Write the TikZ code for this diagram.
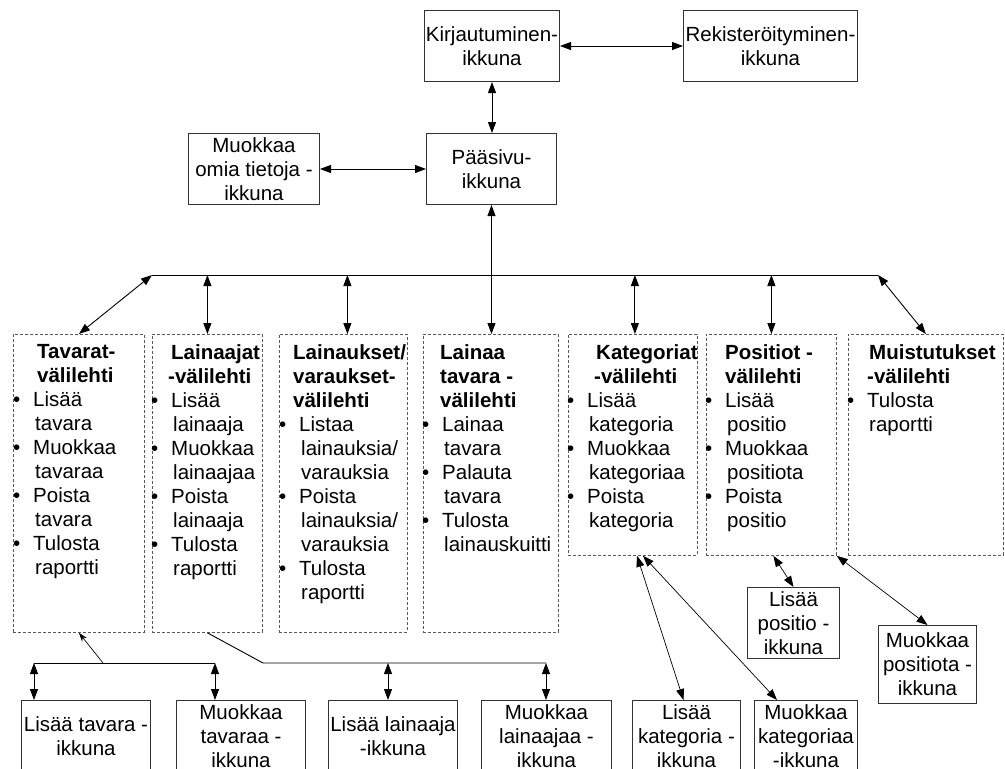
\documentclass[tikz,border=0pt]{standalone}
\usepackage{fontspec}
\setmainfont{Liberation Sans}
\usetikzlibrary{arrows.meta,calc}
% bullet hanging left of the item column
\newcommand{\bu}{\llap{\textbullet\hspace{13pt}}}
\begin{document}
\begin{tikzpicture}[x=1pt,y=-1pt,
  every node/.style={font=\fontsize{20.5}{24}\selectfont},
  win/.style={draw=black!80, line width=1pt, align=center, inner sep=0pt, anchor=north west},
  tab/.style={draw=black!65, line width=0.8pt, dash pattern=on 3pt off 2pt, anchor=north west, inner sep=0pt},
  tabtext/.style={anchor=north west, align=left, inner sep=0pt},
  conn/.style={line width=0.9pt},
  dbl/.style={conn, {Triangle[length=11pt,width=8pt]}-{Triangle[length=11pt,width=8pt]}},
  sgl/.style={line width=0.7pt, -{Stealth[length=9pt,width=6pt]}}
]
\clip (0,0) rectangle (1005,769);
\fill[white] (0,0) rectangle (1005,769);

% ---- window boxes, top part
\node[win, minimum width=135pt, minimum height=71pt] (K) at (424,10) {Kirjautuminen-\\ikkuna};
\node[win, minimum width=174pt, minimum height=71pt] (R) at (683,10) {Rekisteröityminen-\\ikkuna};
\node[win, minimum width=131pt, minimum height=71pt] (MO) at (188,133) {Muokkaa\\omia tietoja -\\ikkuna};
\node[win, minimum width=130pt, minimum height=71pt] (P) at (426,133) {Pääsivu-\\ikkuna};

% ---- tab frames
\node[tab, minimum width=131pt, minimum height=298pt] (T1) at (13,334) {};
\node[tab, minimum width=110pt, minimum height=298pt] (T2) at (152,334) {};
\node[tab, minimum width=128pt, minimum height=298pt] (T3) at (279,334) {};
\node[tab, minimum width=135pt, minimum height=298pt] (T4) at (423,334) {};
\node[tab, minimum width=129pt, minimum height=221pt] (T5) at (568,334) {};
\node[tab, minimum width=130pt, minimum height=221pt] (T6) at (706,334) {};
\node[tab, minimum width=155pt, minimum height=221pt] (T7) at (848,334) {};

% ---- tab contents
\node[tabtext] (X1) at (33,344) {%
\hspace*{4pt}\textbf{Tavarat-}\\
\hspace*{4pt}\textbf{välilehti}\\
\bu Lisää\\ \hspace*{2pt}tavara\\
\bu Muokkaa\\ \hspace*{2pt}tavaraa\\
\bu Poista\\ \hspace*{2pt}tavara\\
\bu Tulosta\\ \hspace*{2pt}raportti};
\node[tabtext] (X2) at (171,344) {%
\textbf{Lainaajat}\\
\hspace*{-3pt}\textbf{-välilehti}\\
\bu Lisää\\ \hspace*{2pt}lainaaja\\
\bu Muokkaa\\ \hspace*{2pt}lainaajaa\\
\bu Poista\\ \hspace*{2pt}lainaaja\\
\bu Tulosta\\ \hspace*{2pt}raportti};
\node[tabtext] (X3) at (299,344) {%
\hspace*{-6pt}\textbf{Lainaukset/}\\
\hspace*{-6pt}\textbf{varaukset-}\\
\hspace*{-6pt}\textbf{välilehti}\\
\bu Listaa\\ \hspace*{2pt}lainauksia/\\ \hspace*{2pt}varauksia\\
\bu Poista\\ \hspace*{2pt}lainauksia/\\ \hspace*{2pt}varauksia\\
\bu Tulosta\\ \hspace*{2pt}raportti};
\node[tabtext] (X4) at (442,344) {%
\hspace*{-2pt}\textbf{Lainaa}\\
\hspace*{-2pt}\textbf{tavara -}\\
\hspace*{-2pt}\textbf{välilehti}\\
\bu Lainaa\\ \hspace*{2pt}tavara\\
\bu Palauta\\ \hspace*{2pt}tavara\\
\bu Tulosta\\ \hspace*{2pt}lainauskuitti};
\node[tabtext] (X5) at (587,344) {%
\hspace*{9pt}\textbf{Kategoriat}\\
\hspace*{7pt}\textbf{-välilehti}\\
\bu Lisää\\ \hspace*{2pt}kategoria\\
\bu Muokkaa\\ \hspace*{2pt}kategoriaa\\
\bu Poista\\ \hspace*{2pt}kategoria};
\node[tabtext] (X6) at (725,344) {%
\textbf{Positiot -}\\
\textbf{välilehti}\\
\bu Lisää\\ \hspace*{2pt}positio\\
\bu Muokkaa\\ \hspace*{2pt}positiota\\
\bu Poista\\ \hspace*{2pt}positio};
\node[tabtext] (X7) at (867,344) {%
\hspace*{2pt}\textbf{Muistutukset}\\
\textbf{-välilehti}\\
\bu Tulosta\\ \hspace*{2pt}raportti};

% ---- window boxes, lower part
\node[win, minimum width=129pt, minimum height=71pt] (LT) at (21,700) {Lisää tavara -\\ikkuna};
\node[win, minimum width=129pt, minimum height=71pt] (MT) at (176,700) {Muokkaa\\tavaraa -\\ikkuna};
\node[win, minimum width=129pt, minimum height=71pt] (LL) at (328,700) {Lisää lainaaja\\-ikkuna};
\node[win, minimum width=130pt, minimum height=71pt] (ML) at (481,700) {Muokkaa\\lainaajaa -\\ikkuna};
\node[win, minimum width=108pt, minimum height=71pt] (LK) at (632,700) {Lisää\\kategoria -\\ikkuna};
\node[win, minimum width=103pt, minimum height=71pt] (MK) at (754,700) {Muokkaa\\kategoriaa\\-ikkuna};
\node[win, minimum width=92pt, minimum height=71pt] (LP) at (747,587) {Lisää\\positio -\\ikkuna};
\node[win, minimum width=98pt, minimum height=78pt] (MP) at (878,625) {Muokkaa\\positiota -\\ikkuna};

% ---- connectors, top part
\draw[dbl] (K.east) -- (R.west);
\draw[dbl] (K.south) -- (K.south |- P.north);
\draw[dbl] (MO.east) -- (P.west);
\draw[dbl] (P.south) -- (P.south |- T4.north);

% ---- tab bus
\coordinate (busL) at (152,275);
\coordinate (busR) at (878,275);
\coordinate (a3) at ($(T3.north)+(4,0)$);
\coordinate (a5) at ($(T5.north)+(2,0)$);
\draw[conn] (busL) -- (busR);
\draw[dbl] (busL) -- (T1.north);
\draw[dbl] (T2.north |- busL) -- (T2.north);
\draw[dbl] (a3 |- busL) -- (a3);
\draw[dbl] (a5 |- busL) -- (a5);
\draw[dbl] (T6.north |- busL) -- (T6.north);
\draw[dbl] (busR) -- (T7.north);

% ---- item windows of the Tavarat tab
\coordinate (tbL) at (34,663);
\coordinate (tbM) at (103,663);
\coordinate (tbR) at (215,663);
\draw[conn] (tbL) -- (tbR);
\draw[sgl] (tbM) -- (T1.south);
\draw[dbl] (tbL) -- (tbL |- LT.north);
\draw[dbl] (tbR) -- (tbR |- MT.north);

% ---- item windows of the Lainaajat tab
\coordinate (lbK) at (263,663);
\coordinate (lb1) at (388,663);
\coordinate (lb2) at (546,663);
\draw[conn] (T2.south) -- (lbK) -- (lb2);
\draw[dbl] (lb1) -- (lb1 |- LL.north);
\draw[dbl] (lb2) -- (lb2 |- ML.north);

% ---- item windows of the Kategoriat and Positiot tabs
\draw[dbl, line width=0.7pt] ($(T5.south west)+(69,0)$) -- ($(LK.north)+(-3,0)$);
\draw[dbl, line width=0.7pt] ($(T5.south west)+(75,0)$) -- ($(MK.north west)+(23,0)$);
\draw[dbl, line width=0.7pt] ($(T6.south)+(2,0)$) -- (LP.north);
\draw[dbl, line width=0.7pt] (T6.south east) -- (MP.north);
\end{tikzpicture}
\end{document}
